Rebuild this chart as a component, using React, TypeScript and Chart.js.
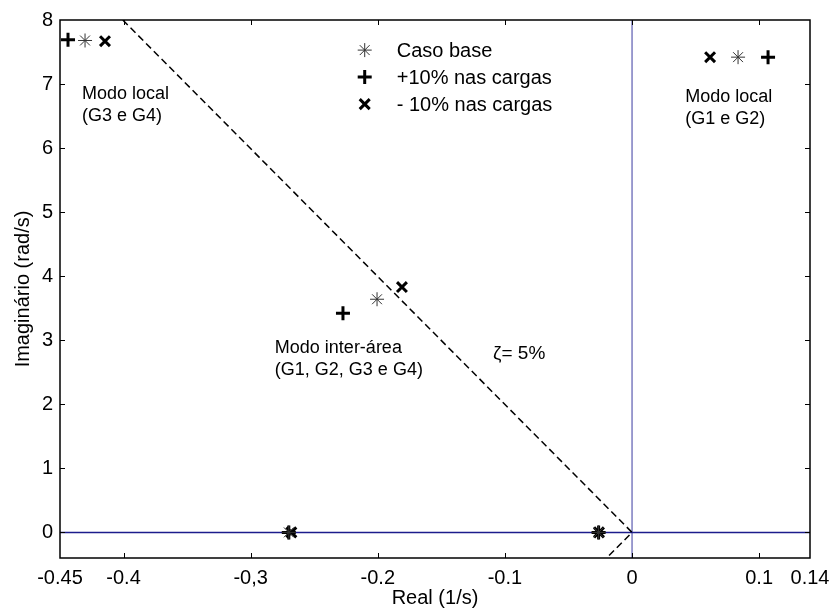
import React, { useEffect, useRef } from "react";
import { Chart, registerables } from "chart.js";

Chart.register(...registerables);

// ---- data ----
const xTickValues = [-0.45, -0.4, -0.3, -0.2, -0.1, 0, 0.1, 0.14];
const xTickLabels = ["-0.45", "-0.4", "-0,3", "-0.2", "-0.1", "0", "0.1", "0.14"];
const yTickValues = [0, 1, 2, 3, 4, 5, 6, 7, 8];
const yTickLabels = ["0", "1", "2", "3", "4", "5", "6", "7", "8"];

const casoBase = [
  { x: -0.4303, y: 7.68 },
  { x: 0.0834, y: 7.42 },
  { x: -0.2006, y: 3.64 },
  { x: -0.27, y: 0 },
  { x: -0.0263, y: 0 },
];
const mais10 = [
  { x: -0.4437, y: 7.69 },
  { x: 0.107, y: 7.42 },
  { x: -0.2274, y: 3.42 },
  { x: -0.27, y: 0 },
  { x: -0.0263, y: 0 },
];
const menos10 = [
  { x: -0.4146, y: 7.67 },
  { x: 0.0614, y: 7.42 },
  { x: -0.181, y: 3.83 },
  { x: -0.268, y: 0 },
  { x: -0.026, y: 0 },
];
const zetaLine = [
  { x: -0.4006, y: 8 },
  { x: 0, y: 0 },
  { x: -0.02, y: -0.4 },
];
const realAxisLine = [
  { x: -0.45, y: 0 },
  { x: 0.14, y: 0 },
];
const imagAxisLine = [
  { x: 0, y: -0.4 },
  { x: 0, y: 8 },
];

const legendLabels = ["Caso base", "+10% nas cargas", "- 10% nas cargas"];
const annotations = [
  { x: -0.4327, y: 6.76, lines: ["Modo local", "(G3 e G4)"] },
  { x: 0.0418, y: 6.72, lines: ["Modo local", "(G1 e G2)"] },
  { x: -0.281, y: 2.8, lines: ["Modo inter-área", "(G1, G2, G3 e G4)"] },
];
const zetaLabel = { x: -0.1093, y: 2.7, text: "ζ= 5%" };

const FONT = "'Liberation Sans', Arial, sans-serif";

function drawMarker(ctx: CanvasRenderingContext2D, kind: string, x: number, y: number) {
  ctx.save();
  ctx.strokeStyle = "#000";
  ctx.beginPath();
  if (kind === "star") {
    const r = 7;
    ctx.lineWidth = 1;
    ctx.strokeStyle = "#333";
    ctx.moveTo(x - r, y); ctx.lineTo(x + r, y);
    ctx.moveTo(x, y - r); ctx.lineTo(x, y + r);
    const d = r * Math.SQRT1_2;
    ctx.moveTo(x - d, y - d); ctx.lineTo(x + d, y + d);
    ctx.moveTo(x - d, y + d); ctx.lineTo(x + d, y - d);
  } else if (kind === "cross") {
    const r = 7;
    ctx.lineWidth = 3;
    ctx.moveTo(x - r, y); ctx.lineTo(x + r, y);
    ctx.moveTo(x, y - r); ctx.lineTo(x, y + r);
  } else {
    const d = 5;
    ctx.lineWidth = 3;
    ctx.moveTo(x - d, y - d); ctx.lineTo(x + d, y + d);
    ctx.moveTo(x - d, y + d); ctx.lineTo(x + d, y - d);
  }
  ctx.stroke();
  ctx.restore();
}

const boxPlugin = {
  id: "boxPlugin",
  afterDatasetsDraw(chart: any) {
    const { ctx, chartArea } = chart;
    const xs = chart.scales.x;
    const ys = chart.scales.y;
    ctx.save();
    ctx.strokeStyle = "#000";
    ctx.lineWidth = 1.5;
    ctx.strokeRect(chartArea.left, chartArea.top, chartArea.right - chartArea.left, chartArea.bottom - chartArea.top);
    ctx.lineWidth = 1;
    const tl = 5;
    ctx.beginPath();
    xTickValues.forEach((v) => {
      const px = Math.round(xs.getPixelForValue(v)) + 0.5;
      if (px <= chartArea.left + 1 || px >= chartArea.right - 1) return;
      ctx.moveTo(px, chartArea.bottom); ctx.lineTo(px, chartArea.bottom - tl);
      ctx.moveTo(px, chartArea.top); ctx.lineTo(px, chartArea.top + tl);
    });
    yTickValues.forEach((v) => {
      const py = Math.round(ys.getPixelForValue(v)) + 0.5;
      if (py <= chartArea.top + 1 || py >= chartArea.bottom - 1) return;
      ctx.moveTo(chartArea.left, py); ctx.lineTo(chartArea.left + tl, py);
      ctx.moveTo(chartArea.right, py); ctx.lineTo(chartArea.right - tl, py);
    });
    ctx.stroke();
    ctx.restore();
  },
  afterDraw(chart: any) {
    const { ctx } = chart;
    const xs = chart.scales.x;
    const ys = chart.scales.y;
    ctx.save();
    // legend
    const kinds = ["star", "cross", "crossRot"];
    const lx = xs.getPixelForValue(-0.2103);
    const ly0 = ys.getPixelForValue(7.53);
    const step = 27;
    ctx.fillStyle = "#000";
    ctx.font = `20px ${FONT}`;
    ctx.textBaseline = "middle";
    ctx.textAlign = "left";
    legendLabels.forEach((lab, i) => {
      const y = ly0 + i * step;
      drawMarker(ctx, kinds[i], lx, y);
      ctx.fillText(lab, lx + 32, y + 1);
    });
    // annotations
    ctx.font = `18px ${FONT}`;
    ctx.textBaseline = "alphabetic";
    annotations.forEach((a) => {
      const x = xs.getPixelForValue(a.x);
      const y = ys.getPixelForValue(a.y);
      a.lines.forEach((t, i) => ctx.fillText(t, x, y + i * 22));
    });
    ctx.font = `19px ${FONT}`;
    ctx.fillText(zetaLabel.text, xs.getPixelForValue(zetaLabel.x), ys.getPixelForValue(zetaLabel.y));
    ctx.restore();
  },
};

export default function App() {
  const ref = useRef<HTMLCanvasElement>(null);
  useEffect(() => {
    if (!ref.current) return;
    const chart = new Chart(ref.current, {
      type: "scatter",
      data: {
        datasets: [
          {
            label: legendLabels[0],
            data: casoBase,
            pointStyle: "star",
            pointRadius: 7,
            pointBorderWidth: 1,
            borderColor: "#333",
            backgroundColor: "#333",
          },
          {
            label: legendLabels[1],
            data: mais10,
            pointStyle: "cross",
            pointRadius: 7,
            pointBorderWidth: 3,
            borderColor: "#000",
            backgroundColor: "#000",
          },
          {
            label: legendLabels[2],
            data: menos10,
            pointStyle: "crossRot",
            pointRadius: 7,
            pointBorderWidth: 3,
            borderColor: "#000",
            backgroundColor: "#000",
          },
          {
            label: "zeta",
            data: zetaLine,
            showLine: true,
            pointRadius: 0,
            borderColor: "#000",
            borderWidth: 1.5,
            borderDash: [7, 4],
          } as any,
          {
            label: "real",
            data: realAxisLine,
            showLine: true,
            pointRadius: 0,
            borderColor: "#1c1c8c",
            borderWidth: 1.5,
          } as any,
          {
            label: "imag",
            data: imagAxisLine,
            showLine: true,
            pointRadius: 0,
            borderColor: "#3a3aa0",
            borderWidth: 1,
          } as any,
        ],
      },
      options: {
        animation: false,
        responsive: false,
        maintainAspectRatio: false,
        layout: { padding: { top: 20, right: 22, left: 0, bottom: 0 } },
        plugins: { legend: { display: false }, tooltip: { enabled: false } },
        scales: {
          x: {
            type: "linear",
            min: -0.45,
            max: 0.14,
            afterBuildTicks: (s: any) => {
              s.ticks = xTickValues.map((v) => ({ value: v }));
            },
            afterFit: (s: any) => {
              s.height = 52;
              s.paddingLeft = 0;
              s.paddingRight = 0;
            },
            ticks: {
              autoSkip: false,
              maxRotation: 0,
              padding: 8,
              color: "#000",
              font: { family: FONT, size: 20 },
              callback: (_v: any, i: number) => xTickLabels[i],
            },
            grid: { display: false, drawTicks: false },
            border: { display: false },
            title: {
              display: true,
              text: "Real (1/s)",
              color: "#000",
              font: { family: FONT, size: 20 },
              padding: { top: 0, bottom: 0 },
            },
          },
          y: {
            type: "linear",
            min: -0.4,
            max: 8,
            afterBuildTicks: (s: any) => {
              s.ticks = yTickValues.map((v) => ({ value: v }));
            },
            afterFit: (s: any) => {
              s.width = 60;
              s.paddingTop = 0;
              s.paddingBottom = 0;
            },
            ticks: {
              autoSkip: false,
              padding: 7,
              color: "#000",
              font: { family: FONT, size: 20 },
              callback: (_v: any, i: number) => yTickLabels[i],
            },
            grid: { display: false, drawTicks: false },
            border: { display: false },
            title: {
              display: true,
              text: "Imaginário (rad/s)",
              color: "#000",
              font: { family: FONT, size: 20 },
              padding: { top: 11, bottom: 0 },
            },
          },
        },
      },
      plugins: [boxPlugin],
    });
    return () => chart.destroy();
  }, []);
  return (
    <div style={{ position: "absolute", left: 0, top: 0, width: 832, height: 610, background: "#fff" }}>
      <canvas ref={ref} width={832} height={610} style={{ display: "block" }} />
    </div>
  );
}
